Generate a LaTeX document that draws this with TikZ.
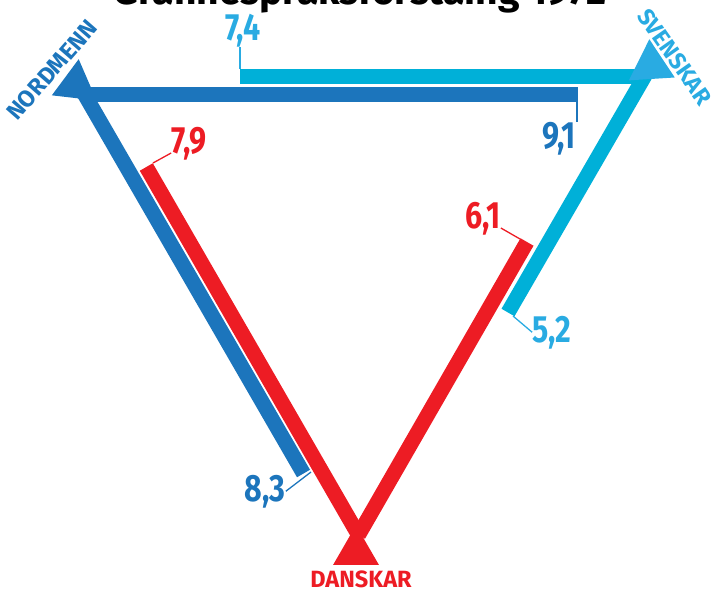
\documentclass[tikz,border=0pt]{standalone}
\usepackage{fontspec}
\setmainfont{Fira Sans}
\newfontfamily\numfont{Fira Sans}[FakeStretch=0.8]
\usetikzlibrary{shapes.geometric}
\definecolor{NorBlue}{HTML}{1C75BC}
\definecolor{SveCyan}{HTML}{00B0D8}
\definecolor{SveLight}{HTML}{29ABE2}
\definecolor{DanRed}{HTML}{ED1C24}

\begin{document}
\begin{tikzpicture}[x=1pt, y=-1pt,
    bar/.style={line width=15pt},
    tick/.style={line width=1.3pt},
    value/.style={font=\numfont\bfseries\fontsize{38}{38}\selectfont, inner sep=0pt, anchor=base},
    corner/.style={regular polygon, regular polygon sides=3, inner sep=0pt, minimum size=52pt},
    country/.style={font=\bfseries\fontsize{23.5}{23.5}\selectfont, inner sep=0pt}
]
    \useasboundingbox (0,0) rectangle (711,589);
    \node[font=\bfseries\fontsize{39}{39}\selectfont, anchor=base, inner sep=0pt] (title) at (360,5)
        {Grannespråksforståing 1972};

    \coordinate (norSve) at (88,94);
    \coordinate (norSveEnd) at (578,94);
    \coordinate (sveNor) at (646,76.5);
    \coordinate (sveNorEnd) at (240,76.5);
    \coordinate (norDan) at (82,90);
    \coordinate (norDanEnd) at (303.5,473.5);
    \coordinate (danNor) at (358.5,535);
    \coordinate (danNorEnd) at (146.3,167);
    \coordinate (danSve) at (358.5,535);
    \coordinate (danSveEnd) at (527,242);
    \coordinate (sveDan) at (645,75.5);
    \coordinate (sveDanEnd) at (508,312.5);

    \draw[bar, SveCyan] (sveNor) -- (sveNorEnd);
    \draw[bar, NorBlue] (norSve) -- (norSveEnd);
    \draw[bar, NorBlue] (norDan) -- (norDanEnd);
    \draw[bar, DanRed] (danNor) -- (danNorEnd);
    \draw[bar, DanRed] (danSve) -- (danSveEnd);
    \draw[bar, SveCyan] (sveDan) -- (sveDanEnd);

    \node[value, SveLight] (v74) at (243,40) {7,4};
    \node[value, NorBlue] (v91) at (559,148) {9,1};
    \node[value, DanRed] (v79) at (189,153) {7,9};
    \node[value, NorBlue] (v83) at (265,501) {8,3};
    \node[value, DanRed] (v61) at (483,228) {6,1};
    \node[value, SveLight] (v52) at (552,342) {5,2};

    \coordinate (t74) at (240,69);
    \coordinate (t91) at (577,101);
    \coordinate (t79) at (153,163);
    \coordinate (t83) at (311,472);
    \coordinate (t61) at (520,239);
    \coordinate (t52) at (513,316);
    \draw[tick, SveLight] (t74) -- (t74 |- v74.south);
    \draw[tick, NorBlue] (t91) -- (t91 |- v91.north);
    \draw[tick, DanRed] (t79) -- (v79.base west);
    \draw[tick, NorBlue] (t83) -- (v83.east);
    \draw[tick, DanRed] (t61) -- (v61.base east);
    \draw[tick, SveLight] (t52) -- (v52.west);

    \node[corner, fill=NorBlue, rotate=-6.6] (nor) at (75.7,85) {};
    \node[corner, fill=SveLight, rotate=3.6, minimum size=53pt] (sve) at (651,65.7) {};
    \node[corner, fill=DanRed, minimum size=53pt] (dan) at (356,551.7) {};

    \node[country, NorBlue, rotate=49] (norName) at (52,70) {NORDMENN};
    \node[country, SveLight, rotate=-55] (sveName) at (675,57) {SVENSKAR};
    \node[country, DanRed, anchor=base] (danName) at (361,587) {DANSKAR};
\end{tikzpicture}
\end{document}
